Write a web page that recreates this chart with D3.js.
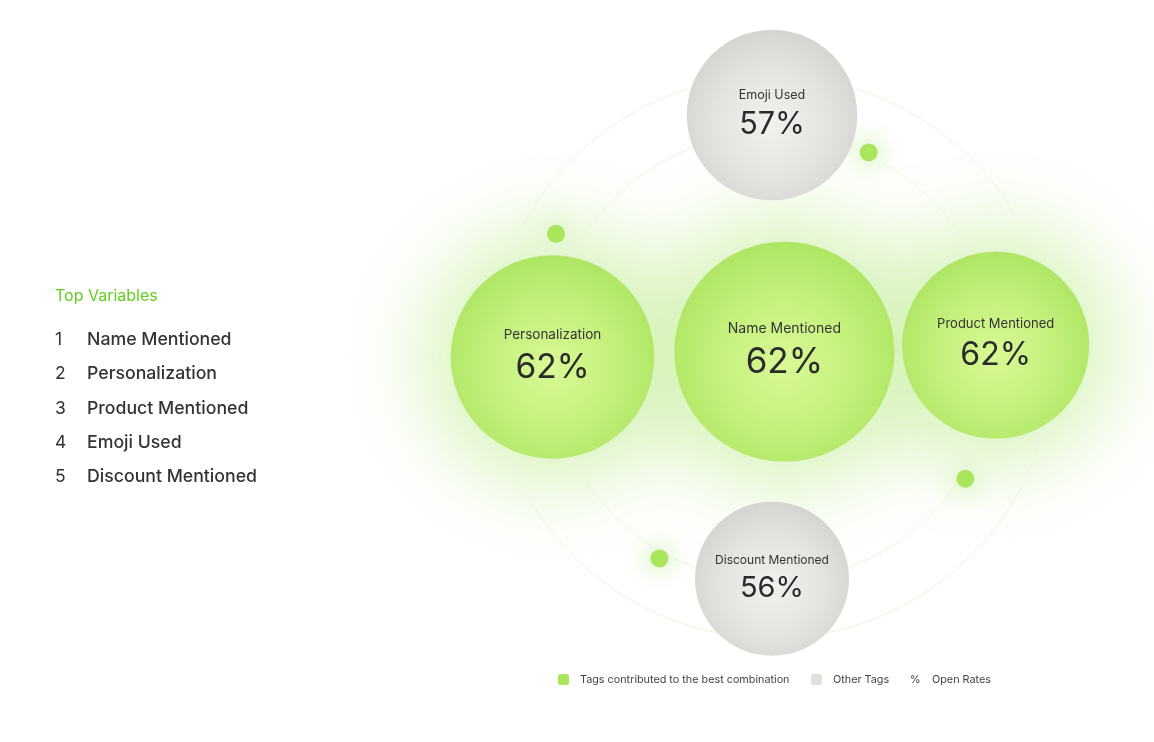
<!DOCTYPE html>
<html>
<head>
<meta charset="utf-8">
<script src="https://cdn.jsdelivr.net/npm/d3@7"></script>
<style>
  html, body { margin: 0; padding: 0; background: #ffffff; }
  svg { display: block; font-family: Inter, "Noto Sans", sans-serif; }
</style>
</head>
<body>
<svg id="chart" width="1154" height="742"></svg>
<script>
// ---------- data ----------
const listTitle = "Top Variables";
const topVariables = ["Name Mentioned", "Personalization", "Product Mentioned", "Emoji Used", "Discount Mentioned"];
const bubbleTags = ["Name Mentioned", "Personalization", "Product Mentioned", "Emoji Used", "Discount Mentioned"];
const bubbleRank = [1, 2, 3, 4, 5];
const openRates = [62, 62, 62, 57, 56];
const bestCombination = [true, true, true, false, false];
// polar placement on the orbit (angle in degrees, distance in orbit units)
const bubbleAngle = [-23, 180, -3, -90, 90];
const bubbleOrbit = [0.06, 0.98, 1.0, 1.08, 0.99];
const dotAngle = [-64.7, -150.3, 32.2, 119.2];
const dotOrbit = [1.01, 1.11, 1.02, 1.03];
const orbitRings = [1, 1.255];
const legendLabels = ["Tags contributed to the best combination", "Other Tags", "Open Rates"];

// ---------- setup ----------
const svg = d3.select("#chart");
const center = { x: 772, y: 357 };
const orbit = d3.scaleLinear().domain([0, 1]).range([0, 224]);
const sizeScale = d3.scaleLinear().domain([1, 5]).range([110, 77]);
const valueFont = d3.scaleLinear().domain([77, 110]).range([29, 35]);
const labelFont = d3.scaleLinear().domain([77, 110]).range([12, 14]);

const bubbles = bubbleTags.map((t, i) => {
  const a = bubbleAngle[i] * Math.PI / 180;
  const d = orbit(bubbleOrbit[i]);
  return {
    tag: t, value: openRates[i], best: bestCombination[i],
    r: sizeScale(bubbleRank[i]),
    x: center.x + d * Math.cos(a),
    y: center.y + d * Math.sin(a)
  };
});
const dots = dotAngle.map((ang, i) => {
  const a = ang * Math.PI / 180;
  const d = orbit(dotOrbit[i]);
  return { x: center.x + d * Math.cos(a), y: center.y + d * Math.sin(a) };
});

const defs = svg.append("defs");
const gg = defs.append("radialGradient").attr("id", "gGreen").attr("cx", "50%").attr("cy", "55%").attr("r", "55%");
gg.append("stop").attr("offset", "0%").attr("stop-color", "#d9f996");
gg.append("stop").attr("offset", "55%").attr("stop-color", "#c5f07d");
gg.append("stop").attr("offset", "100%").attr("stop-color", "#aee663");
const gr = defs.append("radialGradient").attr("id", "gGray").attr("cx", "50%").attr("cy", "55%").attr("r", "55%");
gr.append("stop").attr("offset", "0%").attr("stop-color", "#f1f1ee");
gr.append("stop").attr("offset", "60%").attr("stop-color", "#e3e3e0");
gr.append("stop").attr("offset", "100%").attr("stop-color", "#d4d4d1");
defs.append("filter").attr("id", "bigBlur").attr("x", "-100%").attr("y", "-100%").attr("width", "300%").attr("height", "300%")
  .append("feGaussianBlur").attr("stdDeviation", 40);
defs.append("filter").attr("id", "smallBlur").attr("x", "-200%").attr("y", "-200%").attr("width", "500%").attr("height", "500%")
  .append("feGaussianBlur").attr("stdDeviation", 10);

// ---------- glow ----------
svg.append("g").attr("filter", "url(#bigBlur)")
  .selectAll("circle").data(bubbles.filter(b => b.best)).join("circle")
  .attr("cx", d => d.x).attr("cy", d => d.y).attr("r", d => d.r + 30)
  .attr("fill", "#d3f2b4").attr("opacity", 0.85);

// ---------- orbit rings ----------
svg.append("g").selectAll("circle").data(orbitRings).join("circle")
  .attr("cx", center.x).attr("cy", center.y).attr("r", d => orbit(d))
  .attr("fill", "none").attr("stroke", "#ebf5e0").attr("stroke-width", 1);

// ---------- dots ----------
svg.append("g").attr("filter", "url(#smallBlur)")
  .selectAll("circle").data(dots).join("circle")
  .attr("cx", d => d.x).attr("cy", d => d.y).attr("r", 18)
  .attr("fill", "#e2f6cf").attr("opacity", 0.8);
svg.append("g").selectAll("circle").data(dots).join("circle")
  .attr("cx", d => d.x).attr("cy", d => d.y).attr("r", 9)
  .attr("fill", "#a9e65c");

// ---------- bubbles ----------
const bg = svg.append("g").selectAll("g").data(bubbles).join("g")
  .attr("transform", d => `translate(${d.x},${d.y})`);
bg.append("circle").attr("r", d => d.r)
  .attr("fill", d => d.best ? "url(#gGreen)" : "url(#gGray)");
bg.append("text").attr("text-anchor", "middle")
  .attr("y", d => -(d.r * 0.1 + 7.5))
  .attr("font-size", d => labelFont(d.r))
  .attr("fill", "#333333")
  .text(d => d.tag);
bg.append("text").attr("text-anchor", "middle")
  .attr("y", d => d.r * 0.1 + 10.5)
  .attr("font-size", d => valueFont(d.r))
  .attr("fill", "#2b2b2b")
  .text(d => d.value + "%");

// ---------- left list ----------
const list = svg.append("g");
list.append("text").attr("x", 55).attr("y", 301)
  .attr("font-size", 16).attr("fill", "#62cf20").text(listTitle);
const ly = d3.scalePoint().domain(topVariables).range([345, 482]);
const items = list.selectAll("g.item").data(topVariables).join("g").attr("class", "item");
items.append("text").attr("x", 55).attr("y", d => ly(d))
  .attr("font-size", 17.5).attr("fill", "#333333").text((d, i) => i + 1);
items.append("text").attr("x", 87).attr("y", d => ly(d))
  .attr("font-size", 17.7).attr("font-weight", 500).attr("fill", "#333333").text(d => d);

// ---------- legend ----------
const lg = svg.append("g").attr("font-size", 10.8).attr("fill", "#444444");
lg.append("rect").attr("x", 558).attr("y", 674).attr("width", 11).attr("height", 11).attr("rx", 2.5).attr("fill", "#a9e65c");
lg.append("text").attr("x", 580).attr("y", 683).text(legendLabels[0]);
lg.append("rect").attr("x", 811).attr("y", 674).attr("width", 11).attr("height", 11).attr("rx", 2.5).attr("fill", "#e0e0dd");
lg.append("text").attr("x", 833).attr("y", 683).text(legendLabels[1]);
lg.append("text").attr("x", 910).attr("y", 683).text("%");
lg.append("text").attr("x", 932).attr("y", 683).text(legendLabels[2]);
</script>
</body>
</html>
